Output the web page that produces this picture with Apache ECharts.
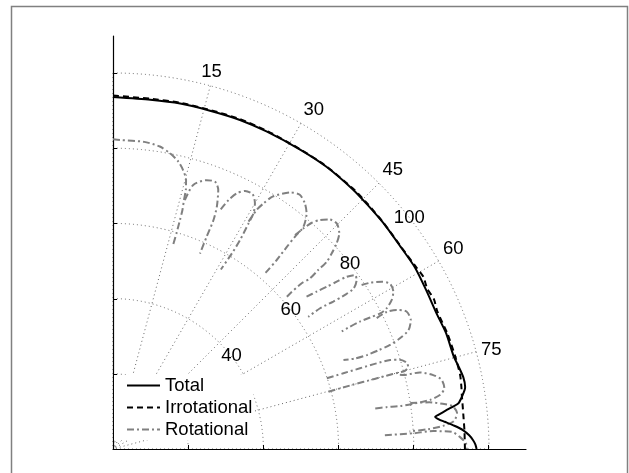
<!DOCTYPE html>
<html>
<head>
<meta charset="utf-8">
<script src="https://cdn.jsdelivr.net/npm/echarts@6/dist/echarts.min.js"></script>
<style>
  html, body { margin: 0; padding: 0; background: #fff; }
  #chart { width: 629px; height: 473px; }
</style>
</head>
<body>
<div id="chart"></div>
<script>
// Directivity of the total field and its two parts, angle in degrees from the vertical.
const totalAngle = [0, 6.1, 11, 16, 21.1, 25.8, 32, 37.1, 42.8, 46.1, 50.2, 54.8, 58.9, 63.1, 67.2, 70.9, 74.8, 76.6, 78.4, 80.0, 80.5, 81.7, 82.5, 83.3, 84.0, 84.3, 84.8, 85.3, 86.1, 86.9, 87.8, 88.6, 89.3, 90];
const totalRadius = [93.6, 93.4, 93.6, 93.6, 93.8, 93.8, 93.9, 94.1, 94.0, 93.8, 93.7, 93.5, 93.7, 93.4, 93.3, 93.8, 93.9, 94.5, 95.1, 95.1, 94.8, 93.6, 92.6, 89.5, 87.0, 86.1, 87.0, 88.5, 91.0, 93.2, 94.8, 95.8, 96.4, 96.7];

const irrotationalAngle = [0, 6, 11, 16, 21, 26, 32, 37, 43, 46, 50, 55, 59, 61, 63, 65, 67, 71, 75, 78, 80, 81, 83, 85, 87, 90];
const irrotationalRadius = [94.0, 93.7, 93.8, 93.8, 94.0, 94.0, 94.0, 94.2, 94.2, 94.0, 93.8, 93.6, 94.0, 94.4, 93.8, 94.2, 93.7, 94.1, 94.3, 94.4, 94.1, 93.9, 93.7, 93.6, 93.6, 93.6];

// Rotational part: separate lobes, null marks a break in the curve.
const rotationalAngle = [
  0, 1.3, 5.8, 8.8, 10.9, 12.8, 14.1, 15.2, 15.7, 15.9, 16.2, 16.3, 16.4, 16.4, null,
  16.1, 16.9, 19.2, 20.9, 22.1, 23.2, 23.7, 23.8, 24.0, null,
  24.2, 24.9, 25.8, 27.1, 28.7, 30.0, 30.8, 31.0, 31.3, 31.3, 31.0, null,
  30.8, 31.0, 31.5, 32.3, 34.6, 36.3, 38.0, 39.4, 40.6, 40.6, 40.7, 40.9, 40.9, 40.8, null,
  40.4, 40.8, 41.3, 42.1, 43.3, 44.8, 46.4, 47.4, 48.2, 48.8, 48.9, 49.1, 48.7, 48.7, 48.8, null,
  51.8, 52.3, 52.8, 53.2, 53.6, 54.3, 55.3, 56.3, 56.4, 56.2, 55.8, 55.9, null,
  56.6, 57.1, 58.1, 59.2, 60.7, 61.9, 62.8, 63.1, 62.9, 62.7, 62.7, 62.8, null,
  63.6, 63.4, 63.9, 64.9, 66.6, 68.1, 68.9, 69.4, 69.6, 69.7, 69.5, 68.9, null,
  71.7, 71.8, 71.9, 72.0, 72.2, 72.7, 73.6, 74.4, 75.0, 75.0, 75.0, 75.0, 75.1, null,
  75.5, 75.7, 76.0, 77.0, 78.1, 79.6, 80.6, 81.2, 81.4, 81.5, 81.3, 81.2, null,
  81.2, 81.6, 82.2, 82.8, 84.0, 85.3, 86.0, 86.4, 86.6, null,
  87.1, 87.0, 86.8, 87.1, 88.0, 89.1, 90.0
];
const rotationalRadius = [
  82.4, 82.2, 82.1, 81.4, 80.1, 78.4, 76.5, 74.1, 71.6, 68.9, 66.2, 63.5, 59.8, 56.6, null,
  68.9, 73.4, 75.7, 76.1, 74.4, 70.1, 66.5, 61.7, 56.9, null,
  69.9, 73.0, 75.5, 77.1, 77.3, 75.5, 73.0, 70.0, 65.0, 60.9, 55.7, null,
  70.4, 74.2, 76.6, 79.4, 82.9, 83.9, 82.9, 81.1, 77.8, 74.4, 70.9, 66.5, 62.4, 61.5, null,
  74.7, 77.5, 80.1, 82.1, 83.9, 84.5, 83.1, 80.8, 78.0, 75.5, 72.4, 69.3, 66.8, 62.7, 61.4, null,
  65.5, 68.4, 71.4, 74.3, 77.2, 79.3, 78.8, 76.9, 74.1, 70.5, 66.6, 62.7, null,
  79.2, 81.4, 84.2, 85.8, 85.5, 84.0, 81.8, 79.7, 76.8, 73.9, 70.9, 68.4, null,
  78.3, 81.4, 84.0, 86.2, 86.3, 84.7, 81.8, 78.7, 75.3, 72.0, 68.7, 65.7, null,
  59.9, 64.5, 69.1, 73.7, 77.4, 79.9, 81.4, 81.5, 80.4, 77.0, 72.0, 66.0, 59.3, null,
  78.8, 79.7, 84.1, 87.4, 89.3, 89.6, 88.2, 85.3, 81.7, 77.2, 73.6, 70.5, null,
  80.0, 85.0, 88.5, 91.0, 92.0, 91.0, 88.0, 84.0, 79.0, null,
  72.4, 80.0, 85.3, 90.2, 92.3, 93.9, 94.1
];

const angleTickLabels = [15, 30, 45, 60, 75];
const radiusTickLabels = [40, 60, 80, 100];
const axisTicks = [0, 20, 40, 60, 80, 100];

const FONT = "'Liberation Sans', Arial, Helvetica, sans-serif";
const GRID_LINE = { color: '#666', width: 1, type: [1, 3] };

function pairs(radius, angle) {
  return radius.map((r, i) => [r, angle[i]]);
}

// Split an array with null separators into pieces.
function segments(radius, angle) {
  const out = [];
  let cur = [];
  radius.forEach((r, i) => {
    if (r === null || angle[i] === null) {
      if (cur.length) out.push(cur);
      cur = [];
    } else {
      cur.push([r, angle[i]]);
    }
  });
  if (cur.length) out.push(cur);
  return out;
}

const series = [
  {
    name: 'Total', type: 'line', coordinateSystem: 'polar', polarIndex: 0,
    data: pairs(totalRadius, totalAngle), symbol: 'none', smooth: 0.2, z: 5,
    lineStyle: { color: '#000', width: 2, type: 'solid' }, itemStyle: { color: '#000' }
  },
  {
    name: 'Irrotational', type: 'line', coordinateSystem: 'polar', polarIndex: 0,
    data: pairs(irrotationalRadius, irrotationalAngle), symbol: 'none', smooth: 0.2, z: 4,
    lineStyle: { color: '#000', width: 2, type: [6, 4] }, itemStyle: { color: '#000' }
  }
];
segments(rotationalRadius, rotationalAngle).forEach(seg => {
  series.push({
    name: 'Rotational', type: 'line', coordinateSystem: 'polar', polarIndex: 0,
    data: seg, symbol: 'none', smooth: 0.25, z: 3,
    lineStyle: { color: '#808080', width: 2, type: [7, 3, 2, 3] }, itemStyle: { color: '#808080' }
  });
});

const chart = echarts.init(document.getElementById('chart'), null, { renderer: 'canvas' });
chart.setOption({
  animation: false,
  backgroundColor: '#fff',
  textStyle: { fontFamily: FONT },
  graphic: [{
    type: 'rect', z: 0, silent: true,
    shape: { x: 11.5, y: 6.5, width: 616, height: 480 },
    style: { fill: 'none', stroke: '#808080', lineWidth: 1.5 }
  }],
  polar: [
    { center: [113, 449], radius: 376 },
    { center: [113, 449], radius: 376 }
  ],
  angleAxis: [
    {
      polarIndex: 0, type: 'value', min: 0, max: 90, interval: 15,
      startAngle: 90, endAngle: 0, clockwise: true,
      axisLine: { show: false }, axisTick: { show: false },
      axisLabel: {
        margin: 5, fontSize: 18.5, color: '#000', fontFamily: FONT,
        formatter: v => angleTickLabels.includes(v) ? String(v) : ''
      },
      splitLine: { show: true, lineStyle: GRID_LINE }
    },
    {
      polarIndex: 1, type: 'value', min: 0, max: 360, startAngle: 38, show: false
    }
  ],
  radiusAxis: [
    {
      polarIndex: 0, type: 'value', min: 0, max: 100, interval: 20,
      axisLine: { show: false }, axisTick: { show: false }, axisLabel: { show: false },
      splitLine: { show: true, lineStyle: GRID_LINE }
    },
    {
      polarIndex: 1, type: 'value', min: 0, max: 100, interval: 20,
      axisLine: { show: false }, axisTick: { show: false }, splitLine: { show: false },
      axisLabel: {
        margin: 0, fontSize: 18.5, color: '#000', fontFamily: FONT, rotate: 0,
        align: 'center', verticalAlign: 'middle',
        formatter: v => radiusTickLabels.includes(v) ? String(v) : ''
      }
    }
  ],
  grid: { left: 113, top: 36, width: 413, height: 413 },
  xAxis: {
    type: 'value', min: 0, max: 110,
    axisLine: { show: true, onZero: false, lineStyle: { color: '#000', width: 1.2 } },
    axisTick: { show: true, inside: true, length: 4, customValues: axisTicks, lineStyle: { color: '#000' } },
    axisLabel: { show: false }, splitLine: { show: false }
  },
  yAxis: {
    type: 'value', min: 0, max: 110,
    axisLine: { show: true, onZero: false, lineStyle: { color: '#000', width: 1.2 } },
    axisTick: { show: true, inside: true, length: 4, customValues: axisTicks, lineStyle: { color: '#000' } },
    axisLabel: { show: false }, splitLine: { show: false }
  },
  legend: {
    orient: 'vertical', left: 114, top: 375,
    padding: [1, 1, 1, 12],
    backgroundColor: '#fff',
    itemWidth: 33, itemHeight: 12, itemGap: 3,
    selectedMode: false,
    itemStyle: { opacity: 0 },
    textStyle: { fontSize: 18.5, color: '#000', fontFamily: FONT, lineHeight: 18 },
    data: ['Total', 'Irrotational', 'Rotational']
  },
  series: series
});
</script>
</body>
</html>
